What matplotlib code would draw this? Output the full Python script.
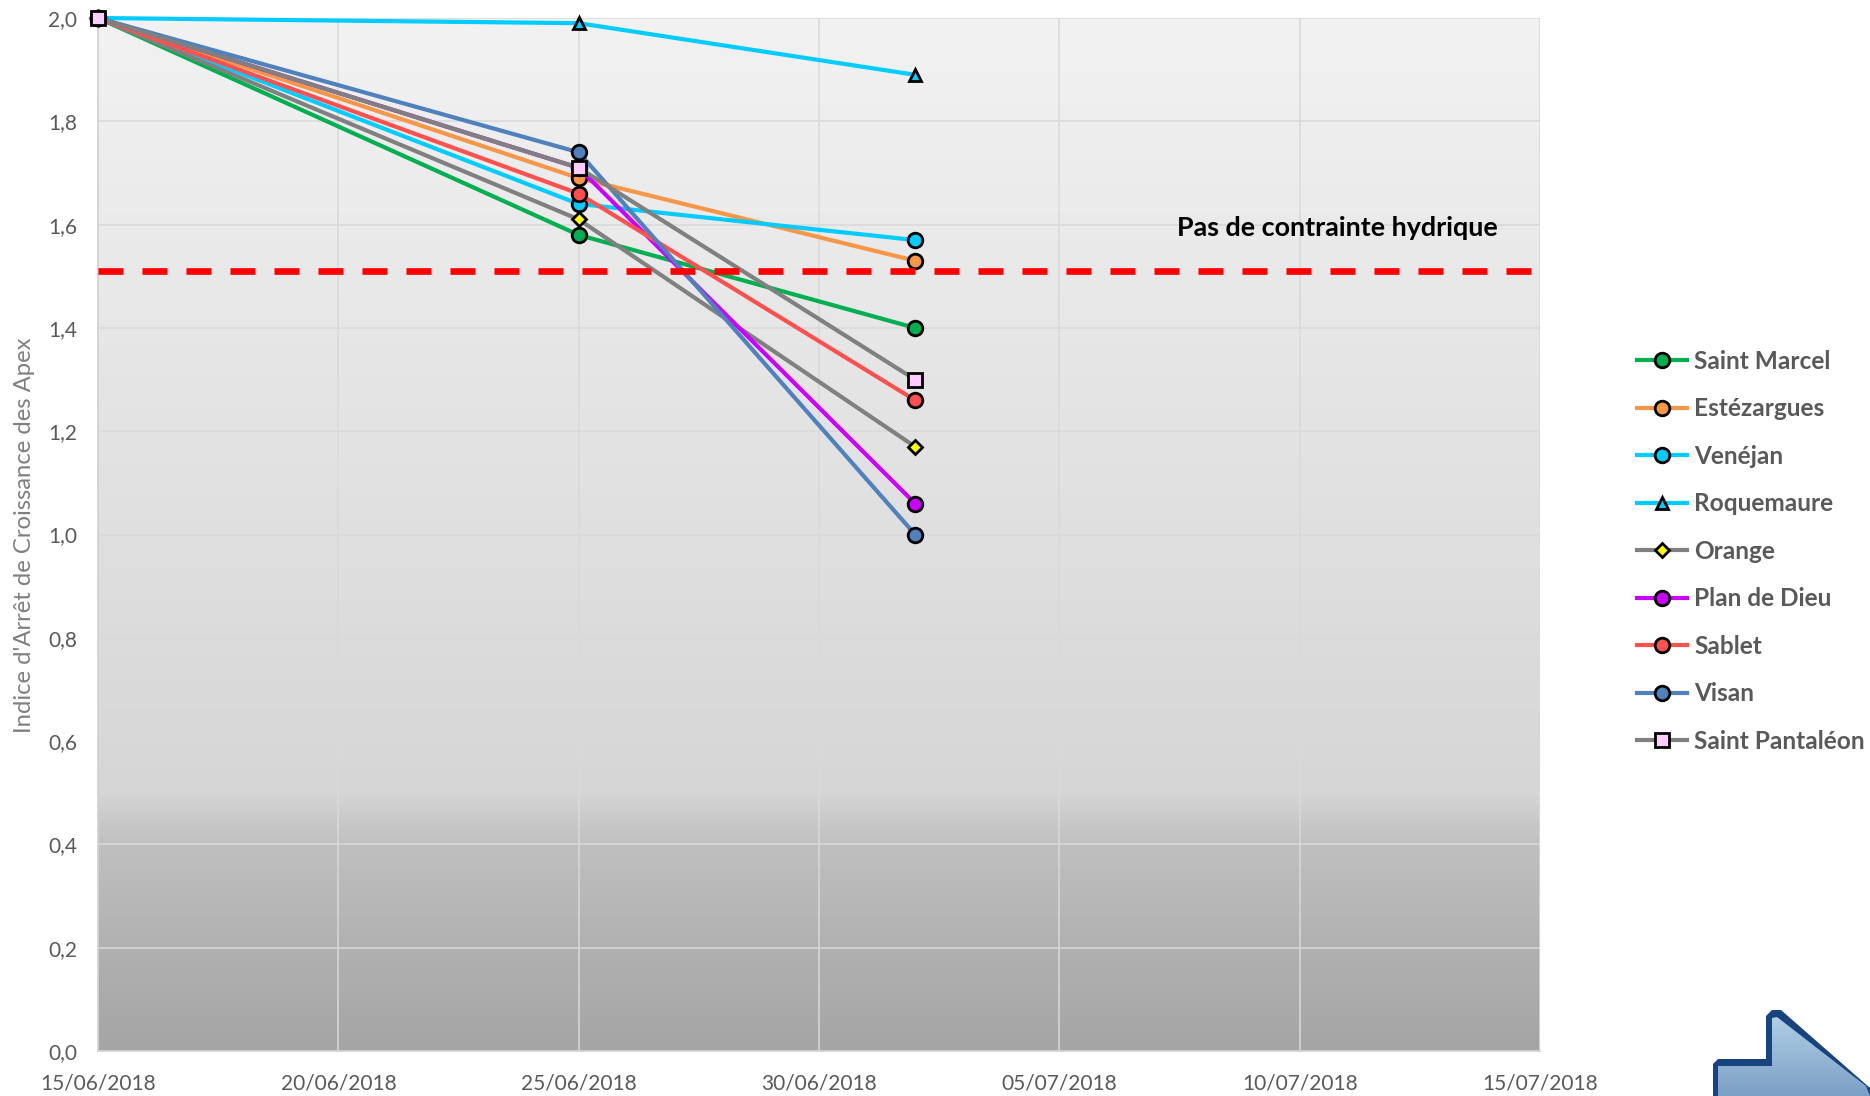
import datetime as dt
import numpy as np
import matplotlib
matplotlib.use('Agg')
import matplotlib.pyplot as plt
import matplotlib.dates as mdates
from matplotlib.colors import LinearSegmentedColormap
from matplotlib.patches import Polygon

plt.rcParams['font.family'] = ['Lato', 'DejaVu Sans']

W, H = 1870, 1096

# data
dates = [dt.date(2018, 6, 15), dt.date(2018, 6, 25), dt.date(2018, 7, 2)]
saint_marcel = [2.0, 1.58, 1.40]
estezargues = [2.0, 1.69, 1.53]
venejan = [2.0, 1.64, 1.57]
roquemaure = [2.0, 1.99, 1.89]
orange = [2.0, 1.61, 1.17]
plan_de_dieu = [2.0, 1.71, 1.06]
sablet = [2.0, 1.66, 1.26]
visan = [2.0, 1.74, 1.00]
saint_pantaleon = [2.0, 1.71, 1.30]
threshold = 1.51

x_ticks = [dt.date(2018, 6, 15), dt.date(2018, 6, 20), dt.date(2018, 6, 25), dt.date(2018, 6, 30),
           dt.date(2018, 7, 5), dt.date(2018, 7, 10), dt.date(2018, 7, 15)]
y_ticks = [0.0, 0.2, 0.4, 0.6, 0.8, 1.0, 1.2, 1.4, 1.6, 1.8, 2.0]

# name, values, line colour, marker, marker size, marker fill
series = [
    ('Saint Marcel', saint_marcel, '#00B050', 'o', 10.5, '#00B050'),
    ('Estézargues', estezargues, '#F79646', 'o', 10.5, '#F79646'),
    ('Venéjan', venejan, '#00CCFF', 'o', 10.5, '#00CCFF'),
    ('Roquemaure', roquemaure, '#00CCFF', '^', 8.5, '#00CCFF'),
    ('Orange', orange, '#808080', 'D', 7, '#FFFF00'),
    ('Plan de Dieu', plan_de_dieu, '#CC00FF', 'o', 10.5, '#CC00FF'),
    ('Sablet', sablet, '#FF5050', 'o', 10.5, '#FF5050'),
    ('Visan', visan, '#4F81BD', 'o', 10.5, '#4F81BD'),
    ('Saint Pantaléon', saint_pantaleon, '#808080', 's', 9.5, '#FFCCFF'),
]

fig = plt.figure(figsize=(W / 100, H / 100), dpi=100)
ax = fig.add_axes([98 / W, 1 - 1051 / H, (1540 - 98) / W, (1051 - 18) / H])

# grey background gradient of the plot area
bg = LinearSegmentedColormap.from_list('bg', [(0, '#A5A5A5'), (0.1, '#B1B1B1'), (0.2, '#C0C0C0'), (0.25, '#D6D6D6'), (1, '#F2F2F2')])
ax.imshow(np.linspace(0, 1, 256).reshape(-1, 1), cmap=bg, origin='lower', aspect='auto',
          extent=(0, 1, 0, 1), transform=ax.transAxes, zorder=0)

for name, vals, col, mk, ms, fill in series:
    ax.plot(dates, vals, color=col, lw=3, marker=mk, ms=ms, mfc=fill, mec='black', mew=2,
            label=name, clip_on=False, zorder=3)

ax.axhline(threshold, color='#FF0000', lw=4.8, dashes=(3.75, 2.85), dash_capstyle='butt', zorder=4)
ax.text(dt.datetime(2018, 7, 10, 19), 1.593, 'Pas de contrainte hydrique', fontsize=19.4,
        fontweight='bold', color='black', ha='center', va='center', zorder=5)

ax.set_xlim(dates[0], x_ticks[-1])
ax.set_ylim(0, 2)
ax.set_xticks(x_ticks)
ax.xaxis.set_major_formatter(mdates.DateFormatter('%d/%m/%Y'))
ax.set_yticks(y_ticks)
ax.set_yticklabels([f'{v:.1f}'.replace('.', ',') for v in y_ticks])
ax.tick_params(length=0, labelsize=15, labelcolor='#595959')
ax.tick_params(axis='x', pad=16)
ax.tick_params(axis='y', pad=15)
ax.grid(color='#D9D9D9', lw=1.1, zorder=1)
ax.set_axisbelow(True)
for s in ['top', 'right']:
    ax.spines[s].set_visible(False)
for s in ['left', 'bottom']:
    ax.spines[s].set_color('#D0D0D0')
    ax.spines[s].set_linewidth(1.2)

fig.text(25 / W, 1 - 535 / H, "Indice d'Arrêt de Croissance des Apex", rotation=90, fontsize=17.2,
         color='#7F7F7F', ha='center', va='center')

leg = fig.legend(loc='upper left', bbox_to_anchor=(1637 / W, 1 - 350 / H), frameon=False, ncol=1,
                 fontsize=17.6, labelspacing=1.0, handlelength=2.05, handletextpad=0.3,
                 borderpad=0, borderaxespad=0)
for t in leg.get_texts():
    t.set_color('#595959')
    t.set_fontweight('bold')

# arrow picture cut off in the bottom right corner
arrow = fig.add_axes([0, 0, 1, 1], zorder=10)
arrow.axis('off')
arrow.patch.set_alpha(0)
outer = Polygon([(1713, 1096), (1713, 1064), (1718, 1059), (1766, 1059), (1766, 1016), (1772, 1010), (1781, 1010),
                 (1870, 1088), (1870, 1096)], closed=True, fc='#17437F', ec='none', zorder=1)
arrow.add_patch(outer)
inner = Polygon([(1718, 1096), (1718, 1066), (1772, 1066), (1772, 1018), (1777, 1017), (1866, 1086), (1870, 1096)],
                closed=True, fc='none', ec='none', zorder=1)
arrow.add_patch(inner)
blue = LinearSegmentedColormap.from_list('blue', ['#7C9FC6', '#B4D2E6'])
im = arrow.imshow(np.linspace(0, 1, 64).reshape(-1, 1), cmap=blue, origin='lower', aspect='auto',
                  extent=(1713, 1870, 1096, 1010), zorder=2)
im.set_clip_path(inner)
arrow.set_xlim(0, W)
arrow.set_ylim(H, 0)

fig.savefig('out.png', dpi=100)
